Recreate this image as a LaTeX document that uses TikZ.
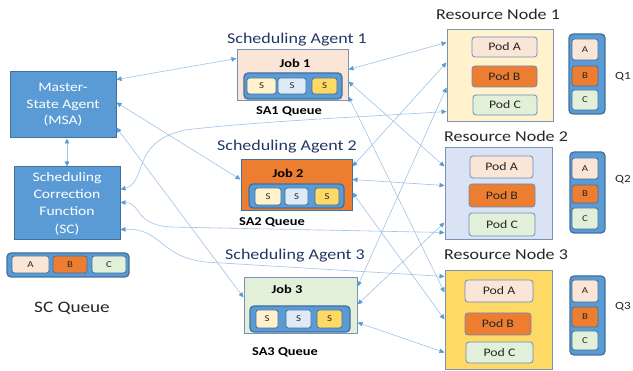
\documentclass[tikz,border=0pt]{standalone}
\usepackage{fontspec}
\setmainfont{Carlito}[FakeStretch=1.2]
\usetikzlibrary{arrows.meta,calc}
\definecolor{blueF}{HTML}{5B9BD5}
\definecolor{blueD}{HTML}{41719C}
\definecolor{peach}{HTML}{FBE5D6}
\definecolor{orangeF}{HTML}{ED7D31}
\definecolor{greenL}{HTML}{E2F0D9}
\definecolor{yellowL}{HTML}{FFF2CC}
\definecolor{blueL}{HTML}{DAE3F3}
\definecolor{sBlue}{HTML}{DEEBF7}
\definecolor{gold}{HTML}{FFD966}
\definecolor{navy}{HTML}{203864}
\definecolor{txt}{HTML}{262626}
\definecolor{lineC}{HTML}{9DC3E6}
\definecolor{frameC}{HTML}{7A92B5}
\definecolor{podE}{HTML}{6A8CC0}
\tikzset{
  agentbox/.style={draw=blueD, fill=blueF, line width=1pt, inner sep=0pt, align=center, text=white},
  sabox/.style={draw=frameC, line width=1pt, inner sep=0pt},
  qbar/.style={draw=blueD, fill=blueF, line width=1.3pt, rounded corners=4pt, inner sep=0pt},
  qitem/.style={draw=blueD, line width=0.8pt, rounded corners=2.5pt, inner sep=0pt, text=txt, font=\fontsize{9}{10}\selectfont},
  pod/.style={draw=podE, line width=0.8pt, rounded corners=3pt, inner sep=0pt, text=txt, font=\fontsize{11.5}{13}\selectfont},
  satitle/.style={text=navy, font=\fontsize{15}{18}\selectfont, inner sep=0pt},
  rntitle/.style={text=txt, font=\fontsize{15}{18}\selectfont, inner sep=0pt},
  joblabel/.style={text=black, font=\bfseries\fontsize{12}{14}\selectfont, inner sep=0pt},
  qlabel/.style={text=black, font=\bfseries\fontsize{12}{14}\selectfont, inner sep=0pt},
  qname/.style={text=txt, font=\fontsize{11}{13}\selectfont, inner sep=0pt},
  con/.style={draw=lineC, line width=0.6pt, >={Triangle[length=5pt,width=4.5pt,color=blueF]}, <->}
}
\begin{document}
\begin{tikzpicture}[x=1pt,y=-1pt]
\useasboundingbox (0,0) rectangle (633,371);
% ---------- left side ----------
\node[agentbox, minimum width=106pt, minimum height=66pt, font=\fontsize{13}{16.5}\selectfont] (msa) at (63,105) {Master-\\State Agent\\(MSA)};
\node[agentbox, minimum width=106pt, minimum height=73pt, font=\fontsize{13}{17.3}\selectfont] (sc) at (67,203.5) {Scheduling\\Correction\\Function\\(SC)};
\node[qbar, minimum width=122pt, minimum height=24pt] (scq) at (68,265) {};
\node[qitem, fill=peach, minimum width=37pt, minimum height=17pt] (scqa) at (30.5,264.5) {A};
\node[qitem, fill=orangeF, minimum width=34pt, minimum height=17pt] (scqb) at (70,264.5) {B};
\node[qitem, fill=greenL, minimum width=34pt, minimum height=17pt] (scqc) at (109,264.5) {C};
\node[text=txt, font=\fontsize{16}{19}\selectfont, inner sep=0pt] (scql) at (72,308) {SC Queue};
% ---------- scheduling agent 1 ----------
\node[satitle] (sa1t) at (297,40) {Scheduling Agent 1};
\node[sabox, fill=peach, minimum width=111pt, minimum height=51pt] (sa1) at (292.5,75.5) {};
\node[joblabel] (j1) at (295,63) {Job 1};
\node[qbar, minimum width=98pt, minimum height=26pt] (sa1q) at (293,86) {};
\node[qitem, fill=yellowL, minimum width=29pt, minimum height=16pt] (sa1s1) at (261.5,86) {S};
\node[qitem, fill=sBlue, minimum width=28pt, minimum height=16pt] (sa1s2) at (292,86) {S};
\node[qitem, fill=gold, minimum width=25pt, minimum height=16pt] (sa1s3) at (324.5,86) {S};
\node[qlabel] (sa1l) at (289,111) {SA1 Queue};
% ---------- scheduling agent 2 ----------
\node[satitle] (sa2t) at (287,147) {Scheduling Agent 2};
\node[sabox, draw=blueD, fill=orangeF, minimum width=111pt, minimum height=51pt] (sa2) at (296.5,185.5) {};
\node[joblabel] (j2) at (288,173) {Job 2};
\node[qbar, minimum width=95pt, minimum height=24pt] (sa2q) at (296.5,196) {};
\node[qitem, fill=yellowL, minimum width=26pt, minimum height=17pt] (sa2s1) at (268,196.5) {S};
\node[qitem, fill=sBlue, minimum width=23pt, minimum height=17pt] (sa2s2) at (296.5,196.5) {S};
\node[qitem, fill=gold, minimum width=24pt, minimum height=17pt] (sa2s3) at (327,196.5) {S};
\node[qlabel] (sa2l) at (272,222) {SA2 Queue};
% ---------- scheduling agent 3 ----------
\node[satitle] (sa3t) at (295,256) {Scheduling Agent 3};
\node[sabox, fill=greenL, minimum width=113pt, minimum height=56pt] (sa3) at (300.5,306) {};
\node[joblabel] (j3) at (287,289) {Job 3};
\node[qbar, minimum width=100pt, minimum height=26pt] (sa3q) at (300,319) {};
\node[qitem, fill=yellowL, minimum width=22pt, minimum height=18pt] (sa3s1) at (267,319) {S};
\node[qitem, fill=sBlue, minimum width=25pt, minimum height=18pt] (sa3s2) at (298.5,319) {S};
\node[qitem, fill=gold, minimum width=25pt, minimum height=18pt] (sa3s3) at (329.5,319) {S};
\node[qlabel] (sa3l) at (285,352) {SA3 Queue};
% ---------- resource node 1 ----------
\node[rntitle] (rn1t) at (498,14) {Resource Node 1};
\node[sabox, fill=yellowL, minimum width=106pt, minimum height=92pt] (rn1) at (500,76) {};
\node[pod, fill=peach, minimum width=65pt, minimum height=20pt] (rn1a) at (504.5,47) {Pod A};
\node[pod, fill=orangeF, minimum width=65pt, minimum height=21pt] (rn1b) at (504.5,76.5) {Pod B};
\node[pod, fill=greenL, minimum width=64pt, minimum height=20pt] (rn1c) at (505,105) {Pod C};
\node[qbar, minimum width=36pt, minimum height=80pt] (q1) at (587,74) {};
\node[qitem, fill=peach, minimum width=26pt, minimum height=21pt] (q1a) at (585,49.5) {A};
\node[qitem, fill=orangeF, minimum width=26pt, minimum height=20pt] (q1b) at (585,76) {B};
\node[qitem, fill=greenL, minimum width=26pt, minimum height=20pt] (q1c) at (585,100) {C};
\node[qname] (q1l) at (623,77) {Q1};
% ---------- resource node 2 ----------
\node[rntitle] (rn2t) at (506,136) {Resource Node 2};
\node[sabox, fill=blueL, minimum width=107pt, minimum height=92pt] (rn2) at (498.5,194) {};
\node[pod, fill=peach, minimum width=63pt, minimum height=22pt] (rn2a) at (501.5,167) {Pod A};
\node[pod, fill=orangeF, minimum width=66pt, minimum height=23pt] (rn2b) at (502,195.5) {Pod B};
\node[pod, fill=greenL, minimum width=66pt, minimum height=23pt] (rn2c) at (502,224.5) {Pod C};
\node[qbar, minimum width=35pt, minimum height=81pt] (q2) at (587.5,192.5) {};
\node[qitem, fill=peach, minimum width=26pt, minimum height=21pt] (q2a) at (585,168.5) {A};
\node[qitem, fill=orangeF, minimum width=26pt, minimum height=18pt] (q2b) at (585,194) {B};
\node[qitem, fill=greenL, minimum width=26pt, minimum height=21pt] (q2c) at (585,218.5) {C};
\node[qname] (q2l) at (623,180) {Q2};
% ---------- resource node 3 ----------
\node[rntitle] (rn3t) at (506,254) {Resource Node 3};
\node[sabox, fill=gold, minimum width=107pt, minimum height=99pt] (rn3) at (498.5,320.5) {};
\node[pod, fill=peach, minimum width=68pt, minimum height=22pt] (rn3a) at (499,291) {Pod A};
\node[pod, fill=orangeF, minimum width=66pt, minimum height=22pt] (rn3b) at (498,324) {Pod B};
\node[pod, fill=greenL, minimum width=67pt, minimum height=21pt] (rn3c) at (499.5,352.5) {Pod C};
\node[qbar, minimum width=35pt, minimum height=79pt] (q3) at (587.5,315.5) {};
\node[qitem, fill=peach, minimum width=26pt, minimum height=22pt] (q3a) at (585,291) {A};
\node[qitem, fill=orangeF, minimum width=26pt, minimum height=20pt] (q3b) at (585,317) {B};
\node[qitem, fill=greenL, minimum width=26pt, minimum height=19pt] (q3c) at (585,340.5) {C};
\node[qname] (q3l) at (623,307) {Q3};
% ---------- connectors ----------
\draw[con] ($(msa.north east)+(0,8)$) -- ($(sa1.north west)+(0,9)$);
\draw[con] ($(msa.north east)+(0,31)$) -- ($(sa2.north west)+(0,20)$);
\draw[con] ($(msa.north east)+(0,56)$) -- ($(sa3.north west)+(0,20)$);
\draw[con] (sc.north |- msa.south) -- (sc.north);
% SC to resource nodes
\draw[con] ($(sc.north east)+(0,23)$) .. controls (148,182) and (130,142) .. (185,130) .. controls (260,121) and (380,116) .. ($(rn1.north west)+(0,82)$);
\draw[con] ($(sc.north east)+(0,36)$) .. controls (142,203) and (133,224) .. (170,227) -- ($(rn2.north west)+(0,85)$);
\draw[con] ($(sc.north east)+(0,63)$) .. controls (162,228) and (158,256) .. (205,262) -- ($(rn3.north west)+(0,6)$);
% agents to resource nodes
\draw[con] ($(sa1.north east)+(0,20)$) -- ($(rn1.north west)+(0,13)$);
\draw[con] ($(sa1.north east)+(0,32)$) -- ($(rn2.north west)+(0,19)$);
\draw[con] ($(sa1.north east)+(0,47)$) -- ($(rn3.north west)+(0,22)$);
\draw[con] ($(sa2.north east)+(0,7)$) -- ($(rn1.north west)+(0,33)$);
\draw[con] ($(sa2.north east)+(0,20)$) -- ($(rn2.north west)+(0,38)$);
\draw[con] ($(sa2.north east)+(0,33)$) -- ($(rn3.north west)+(0,49)$);
\draw[con] ($(sa3.north east)+(0,9)$) -- ($(rn1.north west)+(0,58)$);
\draw[con] ($(sa3.north east)+(0,27)$) -- ($(rn2.north west)+(0,75)$);
\draw[con] ($(sa3.north east)+(0,45)$) -- ($(rn3.north west)+(0,82)$);
\end{tikzpicture}
\end{document}
